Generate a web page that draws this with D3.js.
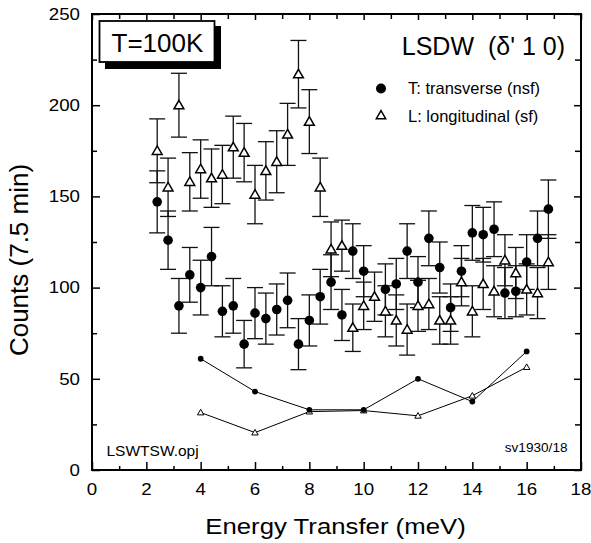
<!DOCTYPE html>
<html><head><meta charset="utf-8">
<script src="https://cdn.jsdelivr.net/npm/d3@7"></script>
<style>
body{margin:0;background:#fff}
svg{display:block}
text{font-family:"Liberation Sans",Arial,Helvetica,sans-serif;fill:#000}
</style>
</head><body>
<svg id="c" width="591" height="543"></svg>
<script>
// ---- data ----
const energy = [2.4,2.8,3.2,3.6,4.0,4.4,4.8,5.2,5.6,6.0,6.4,6.8,7.2,7.6,8.0,8.4,8.8,9.2,9.6,10.0,10.4,10.8,11.2,11.6,12.0,12.4,12.8,13.2,13.6,14.0,14.4,14.8,15.2,15.6,16.0,16.4,16.8];
const transverse = [147,126,90,107,100,117,87,90,69,86,83,88,93,69,82,95,103,85,120,109,null,99,102,120,103,127,111,89,109,130,129,132,97,98,114,127,143];
const transverseErr = [17,16,15,15,15,16,14,15,13,14,14,14,15,14,14,15,15,14,15,14,null,14,14,15,14,15,14,13,14,15,15,15,14,14,15,15,16];
const longitudinal = [175,155,200,158,165,160,162,177,174,151,164,169,184,217,191,155,121,123,78,90,95,87,82,77,90,91,82,82,103,87,102,98,115,108,99,97,114];
const longitudinalErr = [17.5,16,17.5,16,16,16,16,17,16,16,16,17,17,18.5,17.5,16,15,14,13,13,13.5,14,14,14,14,14,13,13,13,14,14,14,14,14,14,14,15];
const calcEnergy = [4,6,8,10,12,14,16];
const calcTransverse = [61,43,33,33,50,37.5,65];
const calcLongitudinal = [31.5,20.5,32,32.6,29.7,40.7,56.4];
const xTicks = [0,2,4,6,8,10,12,14,16,18];
const xMinor = [1,3,5,7,9,11,13,15,17];
const yTicks = [0,50,100,150,200,250];
const yMinor = [25,75,125,175,225];
const legendLabels = ["T: transverse (nsf)","L: longitudinal (sf)"];

// ---- layout ----
const svg = d3.select("#c");
const L = 92, R = 581, T = 14, B = 470;
const x = d3.scaleLinear().domain([0,18]).range([L,R]);
const y = d3.scaleLinear().domain([0,250]).range([B,T]);

function txt(g, px, py, str, size, anchor, sx, rot){
  return g.append("text")
    .attr("transform", `translate(${px},${py})` + (rot?` rotate(${rot})`:"") + ` scale(${sx||1},1)`)
    .attr("text-anchor", anchor || "start")
    .style("font-size", size + "px")
    .text(str);
}

// T=100K box
svg.append("rect").attr("x",105).attr("y",26).attr("width",116).attr("height",43).attr("fill","#000");
svg.append("rect").attr("x",99.5).attr("y",21).attr("width",115).attr("height",41)
  .attr("fill","#fff").attr("stroke","#000").attr("stroke-width",1.8);
txt(svg, 111.5, 52, "T=100K", 26, "start", 1);

// axes ticks (inward)
const ax = svg.append("g");
ax.append("g").attr("transform",`translate(0,${B})`).call(d3.axisBottom(x).tickValues(xTicks).tickSize(-8).tickFormat(""));
ax.append("g").attr("transform",`translate(0,${B})`).call(d3.axisBottom(x).tickValues(xMinor).tickSize(-4).tickFormat(""));
ax.append("g").attr("transform",`translate(0,${T})`).call(d3.axisTop(x).tickValues(xTicks).tickSize(-6).tickFormat(""));
ax.append("g").attr("transform",`translate(0,${T})`).call(d3.axisTop(x).tickValues(xMinor).tickSize(-5).tickFormat(""));
ax.append("g").attr("transform",`translate(${L},0)`).call(d3.axisLeft(y).tickValues(yTicks).tickSize(-8).tickFormat(""));
ax.append("g").attr("transform",`translate(${L},0)`).call(d3.axisLeft(y).tickValues(yMinor).tickSize(-5).tickFormat(""));
ax.append("g").attr("transform",`translate(${R},0)`).call(d3.axisRight(y).tickValues(yTicks).tickSize(-7).tickFormat(""));
ax.append("g").attr("transform",`translate(${R},0)`).call(d3.axisRight(y).tickValues(yMinor).tickSize(-6).tickFormat(""));
ax.selectAll(".domain").remove();
ax.selectAll("line").attr("stroke","#000").attr("stroke-width",1.5);

// frame
svg.append("rect").attr("x",L).attr("y",T).attr("width",R-L).attr("height",B-T)
  .attr("fill","none").attr("stroke","#000").attr("stroke-width",2);

// tick labels
xTicks.forEach(v => txt(svg, x(v), 495, String(v), 16, "middle", 1.17));
yTicks.forEach(v => txt(svg, 80, y(v)+5.8, String(v), 16, "end", 1.17));

// axis titles
txt(svg, 335.5, 534, "Energy Transfer (meV)", 23, "middle", 1.12);
txt(svg, 28, 260, "Counts (7.5 min)", 26, "middle", 1, -90);

// title & legend
txt(svg, 474, 55, "LSDW", 25, "end", 1);
txt(svg, 565, 55, "(\u03B4' 1 0)", 25, "end", 1);
const tri = d3.symbol().type(d3.symbolTriangle);
svg.append("circle").attr("cx",381).attr("cy",88.5).attr("r",5).attr("fill","#000");
svg.append("path").attr("d", d3.symbol().type(d3.symbolTriangle).size(38)()).attr("transform","translate(381,116)")
  .attr("fill","#fff").attr("stroke","#000").attr("stroke-width",1.5);
txt(svg, 408, 94, legendLabels[0], 16.5, "start", 1);
txt(svg, 408, 121.5, legendLabels[1], 16.5, "start", 1);

// file notes
txt(svg, 106.5, 456, "LSWTSW.opj", 15.5, "start", 1);
txt(svg, 567.5, 452, "sv1930/18", 13.6, "end", 1);

// error bars
function errBars(vals, errs){
  const g = svg.append("g").attr("stroke","#111").attr("stroke-width",1.3).attr("fill","none");
  energy.forEach((e,i) => {
    if (vals[i] == null) return;
    const cx = x(e), y1 = y(vals[i]+errs[i]), y2 = y(vals[i]-errs[i]);
    g.append("line").attr("x1",cx).attr("x2",cx).attr("y1",y1).attr("y2",y2);
    g.append("line").attr("x1",cx-8).attr("x2",cx+8).attr("y1",y1).attr("y2",y1);
    g.append("line").attr("x1",cx-8).attr("x2",cx+8).attr("y1",y2).attr("y2",y2);
  });
}
errBars(longitudinal, longitudinalErr);
errBars(transverse, transverseErr);

// main markers
const triPath = d3.symbol().type(d3.symbolTriangle).size(42)();
svg.append("g").selectAll("path").data(energy.map((e,i)=>[e,longitudinal[i]]).filter(d=>d[1]!=null))
  .join("path").attr("d",triPath).attr("transform",d=>`translate(${x(d[0])},${y(d[1])+0.8})`)
  .attr("fill","#fff").attr("stroke","#000").attr("stroke-width",1.5);
svg.append("g").selectAll("circle").data(energy.map((e,i)=>[e,transverse[i]]).filter(d=>d[1]!=null))
  .join("circle").attr("cx",d=>x(d[0])).attr("cy",d=>y(d[1])).attr("r",4.8).attr("fill","#000");

// calculated curves
const line = d3.line().x(d=>x(d[0])).y(d=>y(d[1]));
const cl = calcEnergy.map((e,i)=>[e,calcLongitudinal[i]]);
const ct = calcEnergy.map((e,i)=>[e,calcTransverse[i]]);
svg.append("path").attr("d",line(cl)).attr("fill","none").attr("stroke","#000").attr("stroke-width",1);
svg.append("path").attr("d",line(ct)).attr("fill","none").attr("stroke","#000").attr("stroke-width",1);
const smallTri = d3.symbol().type(d3.symbolTriangle).size(18)();
svg.append("g").selectAll("path").data(cl).join("path").attr("d",smallTri)
  .attr("transform",d=>`translate(${x(d[0])},${y(d[1])+0.5})`)
  .attr("fill","#fff").attr("stroke","#000").attr("stroke-width",1);
svg.append("g").selectAll("circle").data(ct).join("circle")
  .attr("cx",d=>x(d[0])).attr("cy",d=>y(d[1])).attr("r",2.9).attr("fill","#000");
</script>
</body></html>
